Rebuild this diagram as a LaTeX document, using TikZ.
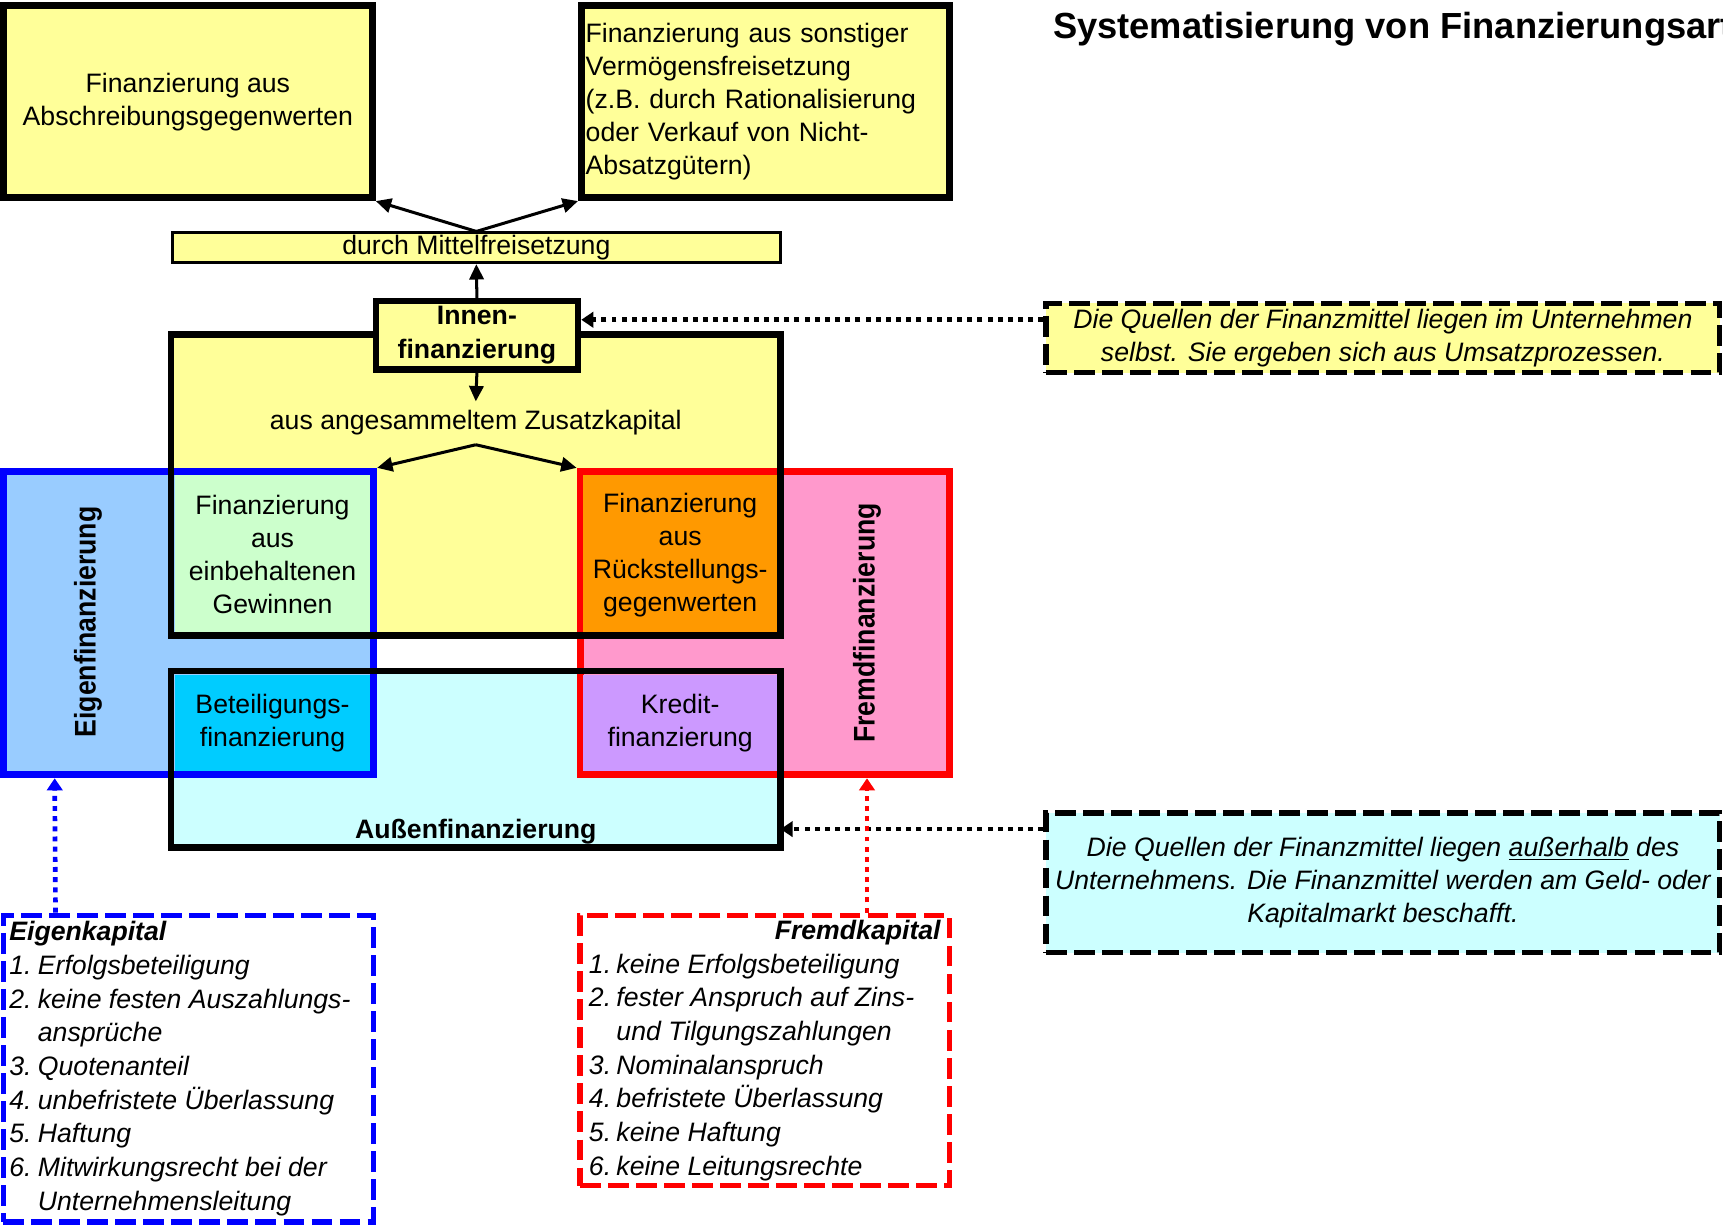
\documentclass[tikz,border=0pt]{standalone}
\usepackage{fontspec}
\setmainfont{Liberation Sans}
\usetikzlibrary{arrows.meta}

\definecolor{hellgelb}{HTML}{FFFF99}
\definecolor{hellblau}{HTML}{99CCFF}
\definecolor{hellgruen}{HTML}{CCFFCC}
\definecolor{rueckorange}{HTML}{FF9900}
\definecolor{rosa}{HTML}{FF99CC}
\definecolor{tuerkis}{HTML}{00CCFF}
\definecolor{lila}{HTML}{CC99FF}
\definecolor{hellcyan}{HTML}{CCFFFF}

\newcommand{\grundschrift}{\fontsize{13.8}{17.1}\selectfont}

\tikzset{
  feld/.style 2 args={minimum width=#1, minimum height=#2},
  flaeche/.style={inner sep=0pt, align=center},
  kasten/.style={flaeche, draw=black, line width=1.2mm},
  duennkasten/.style={flaeche, draw=black, line width=0.55mm},
  farbrahmen/.style={flaeche, line width=1.3mm},
  rand/.style={draw=black, line width=1.2mm},
  gestrichelt/.style={inner sep=0pt, draw=black, line width=1mm, dash pattern=on 3.8mm off 1.3mm},
  pfeil/.style={-{Triangle[length=2.8mm,width=2.6mm]}, line width=0.55mm},
  punktpfeil/.style={-{Triangle[length=2.2mm,width=2.8mm]}, line width=0.85mm, dash pattern=on 0.9mm off 0.95mm},
  seitenlabel/.style={rotate=90, yscale=1.12, font=\grundschrift\bfseries},
}

\begin{document}
\grundschrift
\begin{tikzpicture}[x=0.2mm, y=-0.2mm, font=\grundschrift]
\useasboundingbox (0,0) rectangle (1568,1116);

\node[anchor=base west, inner sep=0pt, font=\fontsize{18.8}{22}\selectfont\bfseries] (titel) at (958,35) {Systematisierung von Finanzierungsarten};

% Mittelfreisetzung
\node[kasten, fill=hellgelb, feld={67.2mm}{35mm}] (abschr) at (171,92.5) {Finanzierung aus\\Abschreibungsgegenwerten};
\node[kasten, fill=hellgelb, feld={67mm}{35mm}, align=left, text width=65.4mm] (sonst) at (696.5,92.5) {Finanzierung aus sonstiger\\Vermögensfreisetzung\\(z.B. durch Rationalisierung\\oder Verkauf von Nicht-\\Absatzgütern)};
\node[duennkasten, fill=hellgelb, feld={110.6mm}{5.4mm}] (mittel) at (433.5,225.5) {durch Mittelfreisetzung};

% Flaechen
\node[flaeche, fill=hellgelb, feld={110.8mm}{54.6mm}] (innen) at (433,441.5) {};
\node[flaeche, fill=hellcyan, feld={110.8mm}{32mm}] (aussen) at (433,691) {};
\node[farbrahmen, draw=blue, fill=hellblau, feld={67.4mm}{55.2mm}] (eigen) at (171.5,567) {};
\node[farbrahmen, draw=red, fill=rosa, feld={67.2mm}{55.2mm}] (fremd) at (696,567) {};
\node[flaeche, fill=hellgruen, feld={35.6mm}{29.2mm}] (gewinne) at (248,505) {Finanzierung\\aus\\einbehaltenen\\Gewinnen};
\node[flaeche, fill=rueckorange, feld={35.2mm}{29.2mm}] (rueckst) at (619,505) {Finanzierung\\aus\\Rückstellungs-\\gegenwerten};
\node[flaeche, fill=tuerkis, feld={35.6mm}{17.6mm}] (beteil) at (248,658) {Beteiligungs-\\finanzierung};
\node[flaeche, fill=lila, feld={35.2mm}{17.6mm}] (kredit) at (619,658) {Kredit-\\finanzierung};
\draw[rand] (innen.north west) rectangle (innen.south east);
\draw[rand] (aussen.north west) rectangle (aussen.south east);

\node[kasten, fill=hellgelb, feld={36.8mm}{12.4mm}, font=\grundschrift\bfseries] (innenlabel) at (434,305) {Innen-\\finanzierung};
\node (zusatz) at (433,385) {aus angesammeltem Zusatzkapital};
\node[font=\grundschrift\bfseries] (aussenlabel) at (433,757) {Außenfinanzierung};
\node[seitenlabel] (eigenlabel) at (80,566) {Eigenfinanzierung};
\node[seitenlabel] (fremdlabel) at (789,567) {Fremdfinanzierung};

\draw[pfeil] (innenlabel.north) -- (mittel.south);
\draw[pfeil] (mittel.north) -- (abschr.south east);
\draw[pfeil] (mittel.north) -- (sonst.south west);
\draw[pfeil] (innenlabel.south) -- (zusatz.north);
\draw[pfeil] (zusatz.south) -- (eigen.north east);
\draw[pfeil] (zusatz.south) -- (fremd.north west);

% Erlaeuterungen rechts
\node[gestrichelt, fill=hellgelb, align=center, feld={122.6mm}{12.6mm}, font=\grundschrift\itshape] (quelleninnen) at (1258.5,307.5) {Die Quellen der Finanzmittel liegen im Unternehmen\\selbst. Sie ergeben sich aus Umsatzprozessen.};
\node[gestrichelt, fill=hellcyan, align=center, feld={122.6mm}{25.4mm}, font=\grundschrift\itshape] (quellenaussen) at (1258.5,803.5) {Die Quellen der Finanzmittel liegen \underline{außerhalb} des\\Unternehmens. Die Finanzmittel werden am Geld- oder\\Kapitalmarkt beschafft.};
\coordinate (qi) at ([yshift=3.3mm]quelleninnen.west);
\draw[punktpfeil] (qi) -- (qi -| innenlabel.east);
\coordinate (qa) at ([yshift=9.8mm]quellenaussen.west);
\draw[punktpfeil] (qa) -- (qa -| aussen.east);

% Merkmale
\node[gestrichelt, draw=blue, fill=white, feld={67.4mm}{55.8mm}, font=\grundschrift\itshape] (ekbox) at (171.5,972.5) {%
\def\arraystretch{1.02}%
\begin{tabular}{@{}p{5.2mm}@{}p{60mm}@{}}
\multicolumn{2}{@{}l@{}}{\bfseries Eigenkapital}\\
1. & Erfolgsbeteiligung\\
2. & keine festen Auszahlungs-\\
   & ansprüche\\
3. & Quotenanteil\\
4. & unbefristete Überlassung\\
5. & Haftung\\
6. & Mitwirkungsrecht bei der\\
   & Unternehmensleitung
\end{tabular}};
\node[gestrichelt, draw=red, fill=white, feld={67.2mm}{49.2mm}, font=\grundschrift\itshape] (fkbox) at (696,956) {%
\def\arraystretch{1.02}%
\begin{tabular}{@{}p{5mm}@{}p{59mm}@{}}
\multicolumn{2}{@{}r@{}}{\bfseries Fremdkapital}\\
1. & keine Erfolgsbeteiligung\\
2. & fester Anspruch auf Zins-\\
   & und Tilgungszahlungen\\
3. & Nominalanspruch\\
4. & befristete Überlassung\\
5. & keine Haftung\\
6. & keine Leitungsrechte
\end{tabular}};
\draw[punktpfeil, draw=blue] ([xshift=10mm]ekbox.north west) -- ([xshift=10mm]eigen.south west);
\draw[punktpfeil, draw=red] (fkbox.north -| fremdlabel) -- (fremd.south -| fremdlabel);
\end{tikzpicture}
\end{document}
